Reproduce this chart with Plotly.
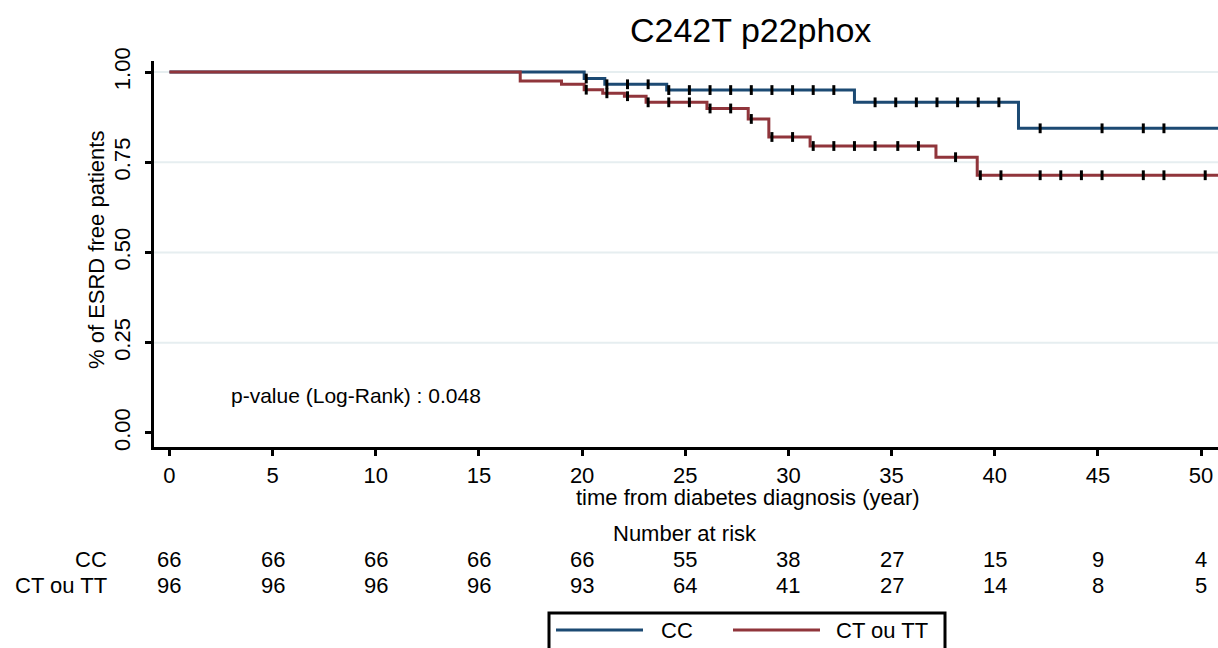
import plotly.graph_objects as go

# --- data (Kaplan-Meier, ESRD free) ---
cc_times = [0, 20.1, 21.1, 24.1, 33.2, 41.15]
cc_surv = [1.0, 0.982, 0.966, 0.950, 0.916, 0.844]
cc_censor = [20.2, 21.2, 22.2, 23.2, 24.2, 25.2, 26.2, 27.2, 28.2, 29.2, 30.2, 31.2,
             32.2, 34.2, 35.2, 36.2, 37.2, 38.2, 39.2, 40.2, 42.2, 45.2, 47.2, 48.2]

ct_times = [0, 17.0, 19.0, 20.1, 21.0, 22.05, 23.1, 26.05, 28.05, 29.05, 31.05, 37.15, 39.15]
ct_surv = [1.0, 0.975, 0.966, 0.951, 0.941, 0.933, 0.916, 0.899, 0.870, 0.820, 0.795, 0.764, 0.714]
ct_censor = [20.2, 21.2, 22.2, 23.2, 24.2, 25.2, 26.2, 27.2, 28.2, 29.2, 30.2, 31.2, 32.2,
             33.2, 34.2, 35.3, 36.3, 38.1, 39.3, 40.3, 42.2, 43.2, 44.2, 45.2, 47.2, 48.2, 50.2]

end_time = 51

risk_times = [0, 5, 10, 15, 20, 25, 30, 35, 40, 45, 50]
risk_cc = [66, 66, 66, 66, 66, 55, 38, 27, 15, 9, 4]
risk_ct = [96, 96, 96, 96, 93, 64, 41, 27, 14, 8, 5]

y_ticks = [0, 0.25, 0.5, 0.75, 1.0]
y_ticktext = ["0.00", "0.25", "0.50", "0.75", "1.00"]
grid_vals = [0.25, 0.5, 0.75, 1.0]

NAVY = "#1c4a73"
MAROON = "#90353b"
FONT = "Liberation Sans, Arial, sans-serif"

# plot area in pixels (1218x648 canvas)
W, H = 1218, 648
PL, PR, PT, PB = 154, 1218, 61, 447


def px_x(p):
    return (p - PL) / (PR - PL)


def px_y(p):
    return (PB - p) / (PB - PT)


def surv_at(times, surv, t):
    val = surv[0]
    for ti, si in zip(times, surv):
        if ti <= t:
            val = si
    return val


fig = go.Figure()

# step curves
fig.add_trace(go.Scatter(x=cc_times + [end_time], y=cc_surv + [cc_surv[-1]], mode="lines",
                         line=dict(color=NAVY, width=3, shape="hv"), name="CC"))
fig.add_trace(go.Scatter(x=ct_times + [end_time], y=ct_surv + [ct_surv[-1]], mode="lines",
                         line=dict(color=MAROON, width=3, shape="hv"), name="CT ou TT"))

# censoring marks
for times, surv, cens in [(cc_times, cc_surv, cc_censor), (ct_times, ct_surv, ct_censor)]:
    fig.add_trace(go.Scatter(
        x=cens, y=[surv_at(times, surv, t) for t in cens], mode="markers",
        marker=dict(symbol="line-ns", size=7, line=dict(color="black", width=3)),
        showlegend=False, hoverinfo="skip"))

shapes = []
# light horizontal gridlines (none at 0)
for g in grid_vals:
    shapes.append(dict(type="line", xref="paper", yref="y", x0=0, x1=1, y0=g, y1=g,
                       line=dict(color="#e6eef0", width=2), layer="below"))

annotations = []
# title
annotations.append(dict(text="C242T p22phox", xref="paper", yref="paper", x=px_x(750), y=px_y(30),
                        xanchor="center", yanchor="middle", showarrow=False,
                        font=dict(size=34, color="black", family=FONT)))
# axis titles
annotations.append(dict(text="time from diabetes diagnosis (year)", xref="paper", yref="paper",
                        x=px_x(748), y=px_y(497), xanchor="center", yanchor="middle", showarrow=False,
                        font=dict(size=22, color="black", family=FONT)))
annotations.append(dict(text="% of ESRD free patients", xref="paper", yref="paper",
                        x=px_x(96), y=px_y(250), xanchor="center", yanchor="middle", showarrow=False,
                        textangle=-90, font=dict(size=22, color="black", family=FONT)))
# p-value
annotations.append(dict(text="p-value (Log-Rank) : 0.048", xref="paper", yref="paper",
                        x=px_x(229), y=px_y(395), xanchor="left", yanchor="middle", showarrow=False,
                        font=dict(size=21, color="black", family=FONT)))

# number at risk table
annotations.append(dict(text="Number at risk", xref="x", yref="paper", x=25, y=px_y(533),
                        xanchor="center", yanchor="middle", showarrow=False,
                        font=dict(size=22, color="black", family=FONT)))
for label, counts, py in [("CC", risk_cc, 559), ("CT ou TT", risk_ct, 585)]:
    annotations.append(dict(text=label, xref="paper", yref="paper", x=px_x(109), y=px_y(py),
                            xanchor="right", yanchor="middle", showarrow=False,
                            font=dict(size=22, color="black", family=FONT)))
    for t, n in zip(risk_times, counts):
        annotations.append(dict(text=str(n), xref="x", yref="paper", x=t, y=px_y(py),
                                xanchor="center", yanchor="middle", showarrow=False,
                                font=dict(size=22, color="black", family=FONT)))

# legend box drawn by hand (bottom runs off the canvas like the reference)
shapes.append(dict(type="rect", xref="paper", yref="paper", x0=px_x(549), x1=px_x(945),
                   y0=px_y(664), y1=px_y(613), line=dict(color="black", width=3)))
shapes.append(dict(type="line", xref="paper", yref="paper", x0=px_x(556), x1=px_x(643),
                   y0=px_y(630), y1=px_y(630), line=dict(color=NAVY, width=3)))
shapes.append(dict(type="line", xref="paper", yref="paper", x0=px_x(733), x1=px_x(820),
                   y0=px_y(630), y1=px_y(630), line=dict(color=MAROON, width=3)))
annotations.append(dict(text="CC", xref="paper", yref="paper", x=px_x(659), y=px_y(630),
                        xanchor="left", yanchor="middle", showarrow=False,
                        font=dict(size=22, color="black", family=FONT)))
annotations.append(dict(text="CT ou TT", xref="paper", yref="paper", x=px_x(834), y=px_y(630),
                        xanchor="left", yanchor="middle", showarrow=False,
                        font=dict(size=22, color="black", family=FONT)))

fig.update_layout(
    width=W, height=H,
    margin=dict(l=PL, r=W - PR, t=PT, b=H - PB, autoexpand=False),
    plot_bgcolor="white", paper_bgcolor="white",
    showlegend=False,
    font=dict(family=FONT, size=22, color="black"),
    shapes=shapes,
    annotations=annotations,
    xaxis=dict(range=[-0.75, 50.82], tickvals=risk_times, showgrid=False, zeroline=False,
               showline=True, linecolor="black", linewidth=3, ticks="outside", ticklen=6,
               tickwidth=2.5, tickcolor="black", ticklabelstandoff=1,
               tickfont=dict(size=22, family=FONT, color="black")),
    yaxis=dict(range=[-0.0388, 1.0305], tickvals=y_ticks, ticktext=y_ticktext, tickangle=-90,
               showgrid=False, zeroline=False, showline=True, linecolor="black", linewidth=3,
               ticks="outside", ticklen=6, tickwidth=2.5, tickcolor="black", ticklabelstandoff=6,
               tickfont=dict(size=22, family=FONT, color="black")),
)

# page body has a default 8px margin; drop it so the figure sits at the window corner
fig.write_html("out.html", config={"displayModeBar": False},
               post_script="document.body.style.margin='0px';")
